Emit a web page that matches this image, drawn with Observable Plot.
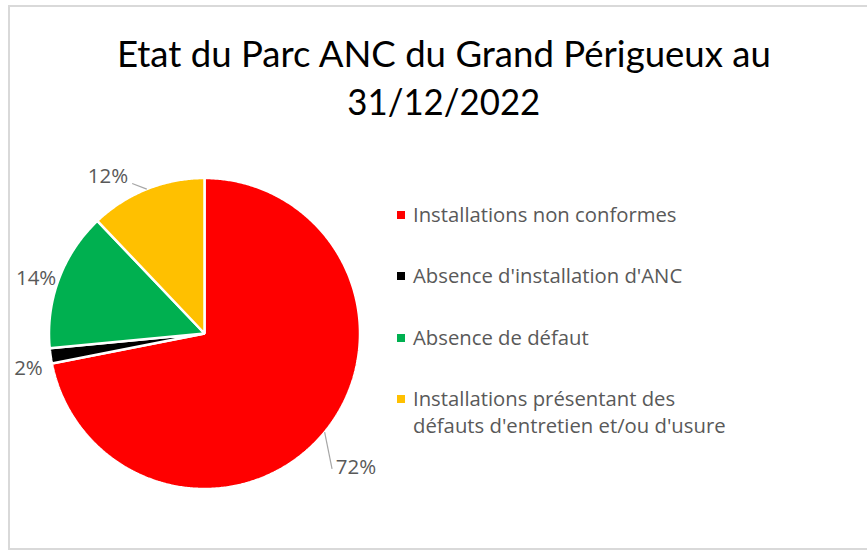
<!DOCTYPE html>
<html><head><meta charset="utf-8">
<script src="https://cdn.jsdelivr.net/npm/d3@7"></script>
<script src="https://cdn.jsdelivr.net/npm/@observablehq/plot@0.6"></script>
<style>
html,body{margin:0;padding:0;background:#fff;}
#wrap{position:relative;width:867px;height:551px;overflow:hidden;background:#fff;}
#frame{position:absolute;left:8px;top:5px;width:900px;height:545px;border:2px solid #d9d9d9;box-sizing:border-box;}
#chart{position:absolute;left:0;top:0;}
.tline{position:absolute;left:0;width:867px;text-align:center;font-family:Lato,'Open Sans',sans-serif;font-size:36px;line-height:48px;color:#000;white-space:nowrap;}
.tline span{display:inline-block;transform-origin:center;}
.litem{position:absolute;left:397px;display:flex;align-items:flex-start;font-family:'Open Sans',sans-serif;font-size:20.3px;line-height:27px;color:#595959;}
.lsw{width:8px;height:8px;margin-top:10px;margin-right:8px;flex:none;}
.ltx{width:325px;}
</style>
</head><body>
<div id="wrap"><div id="frame"></div><div id="chart"></div></div>
<script>
// ---- data ----
const titleLines = ["Etat du Parc ANC du Grand Périgueux au", "31/12/2022"];
const categories = [
  "Installations non conformes",
  "Absence d'installation d'ANC",
  "Absence de défaut",
  "Installations présentant des défauts d'entretien et/ou d'usure"
];
const shares = [71.9, 1.6, 14.4, 12.1];
const colors = ["#FF0000", "#000000", "#00B050", "#FFC000"];

// ---- label layout (styling, not data) ----
const labelLayout = [
  {r: 1.27, anchor: "middle", dx: -1, leader: [-25, 10]},
  {r: 1.17, anchor: "middle", dx: 4},
  {r: 1.17, anchor: "middle", dx: 2},
  {r: 1.15, anchor: "end", dx: -10, leader: [-6, 16]}
];

const R = 155.5, cx = 204, cy = 333;
const data = categories.map((c, i) => ({category: c, value: shares[i]}));
const arcs = d3.pie().sort(null).value(d => d.value)(data);

const slicePoints = arcs.flatMap(a => {
  const n = Math.max(2, Math.ceil((a.endAngle - a.startAngle) / (Math.PI / 360)));
  const pts = [{category: a.data.category, x: 0, y: 0}];
  for (let k = 0; k <= n; k++) {
    const t = a.startAngle + (a.endAngle - a.startAngle) * k / n;
    pts.push({category: a.data.category, x: Math.sin(t), y: Math.cos(t)});
  }
  return pts;
});

const labels = arcs.map((a, i) => {
  const m = (a.startAngle + a.endAngle) / 2;
  const L = labelLayout[i];
  return {category: a.data.category, text: `${Math.round(a.data.value)}%`,
    x: L.r * Math.sin(m), y: L.r * Math.cos(m), ex: Math.sin(m), ey: Math.cos(m),
    anchor: L.anchor, dx: L.dx, leader: L.leader};
});
const leaders = labels.filter(l => l.leader).map(l => ({
  x1: l.ex, y1: l.ey, x2: l.x + l.leader[0] / R, y2: l.y - l.leader[1] / R
}));

const chart = Plot.plot({
  width: 867, height: 551,
  x: {domain: [-1, 1], range: [cx - R, cx + R], axis: null},
  y: {domain: [-1, 1], range: [cy + R, cy - R], axis: null},
  color: {domain: categories, range: colors},
  style: {fontFamily: "'Open Sans', sans-serif", background: "transparent", overflow: "visible"},
  marks: [
    Plot.line(slicePoints, {x: "x", y: "y", z: "category", fill: "category", stroke: "white",
      strokeWidth: 2.5, curve: "linear-closed", strokeLinejoin: "miter"}),
    Plot.link(leaders, {x1: "x1", y1: "y1", x2: "x2", y2: "y2", stroke: "#a6a6a6", strokeWidth: 1.2}),
    ...labels.map(l => Plot.text([l], {x: "x", y: "y", text: "text", textAnchor: l.anchor, dx: l.dx, dy: 9,
      fill: "#595959", fontSize: 20.5}))
  ]
});
document.getElementById("chart").appendChild(chart);

const wrap = document.getElementById("wrap");
// title
const titleTops = [29, 77];
const titleWidths = [654, 193];
titleLines.forEach((t, i) => {
  const div = document.createElement("div");
  div.className = "tline";
  div.style.top = titleTops[i] + "px";
  const span = document.createElement("span");
  span.textContent = t;
  div.appendChild(span);
  wrap.appendChild(div);
  const w = span.getBoundingClientRect().width;
  span.style.transform = `translateX(10px) scaleX(${titleWidths[i] / w})`;
});

// legend
const color = chart.scale("color");
categories.forEach((c, i) => {
  const item = document.createElement("div");
  item.className = "litem";
  item.style.top = (200.5 + i * 61.5) + "px";
  const sw = document.createElement("div");
  sw.className = "lsw";
  sw.style.background = colors[color.domain.indexOf(c)];
  const tx = document.createElement("div");
  tx.className = "ltx";
  tx.textContent = c;
  item.appendChild(sw); item.appendChild(tx);
  wrap.appendChild(item);
});
</script>
</body></html>
